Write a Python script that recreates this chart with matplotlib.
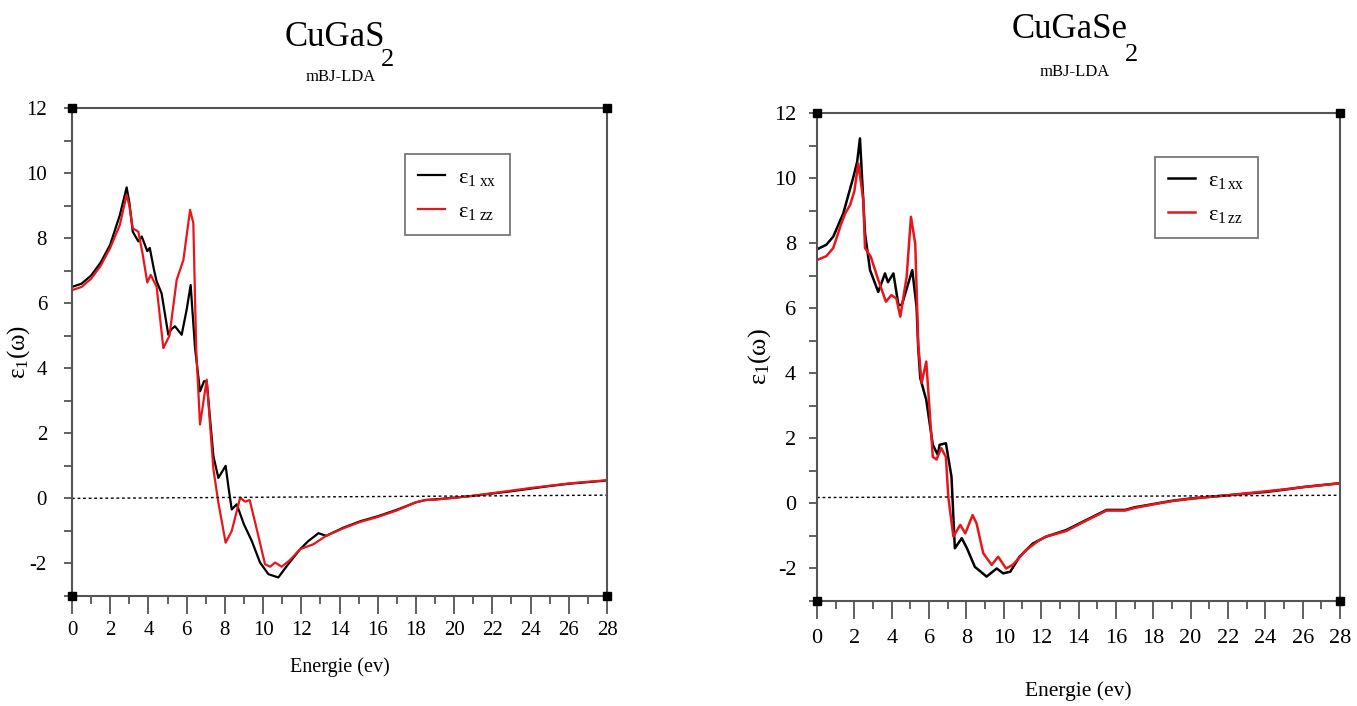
import matplotlib
matplotlib.use("Agg")
import matplotlib.pyplot as plt
from matplotlib.ticker import MultipleLocator

plt.rcParams['font.family'] = ['Liberation Serif', 'DejaVu Serif']
plt.rcParams['mathtext.fontset'] = 'custom'
plt.rcParams['mathtext.rm'] = 'Liberation Serif'
plt.rcParams['mathtext.it'] = 'Liberation Serif:italic'
plt.rcParams['axes.unicode_minus'] = False

# ---------------- data: CuGaS2 ----------------
s_xx_E = [0, 0.5, 1.0, 1.5, 2.0, 2.5, 2.86, 3.0, 3.18, 3.47, 3.65, 3.94, 4.07, 4.3, 4.43, 4.69,
          5.04, 5.2, 5.39, 5.74, 6.0, 6.21, 6.44, 6.7, 6.91, 7.05, 7.4, 7.66, 8.04, 8.2, 8.36,
          8.62, 9.0, 9.41, 9.84, 10.28, 10.8, 11.24, 11.94, 12.37, 12.9, 13.3, 14.2, 15.1, 16,
          17, 18, 18.5, 19, 20, 21, 22, 23, 24, 25, 26, 27, 28]
s_xx_eps = [6.5, 6.6, 6.85, 7.25, 7.8, 8.7, 9.56, 9.1, 8.2, 7.9, 8.05, 7.6, 7.7, 7.0, 6.67, 6.3,
            5.03, 5.2, 5.29, 5.03, 5.8, 6.56, 4.62, 3.29, 3.6, 3.6, 1.3, 0.63, 1.0, 0.3, -0.34,
            -0.18, -0.8, -1.31, -1.97, -2.33, -2.43, -2.08, -1.56, -1.31, -1.07, -1.15, -0.9, -0.7, -0.55,
            -0.35, -0.12, -0.05, -0.03, 0.02, 0.08, 0.15, 0.22, 0.3, 0.38, 0.45, 0.5, 0.55]

s_zz_E = [0, 0.5, 1.0, 1.5, 2.0, 2.5, 2.86, 3.0, 3.18, 3.47, 3.7, 3.94, 4.12, 4.43, 4.78, 5.1,
          5.48, 5.83, 6.18, 6.35, 6.5, 6.7, 7.05, 7.4, 7.66, 8.04, 8.36, 8.8, 9.06, 9.3, 9.67,
          10.1, 10.37, 10.63, 10.97, 11.4, 11.94, 12.63, 13.3, 14.2, 15.1, 16, 17, 18, 18.5, 19,
          20, 21, 22, 23, 24, 25, 26, 27, 28]
s_zz_eps = [6.4, 6.5, 6.75, 7.15, 7.7, 8.4, 9.33, 9.0, 8.3, 8.2, 7.5, 6.64, 6.87, 6.5, 4.62, 5.0,
            6.72, 7.33, 8.87, 8.46, 4.6, 2.27, 3.65, 0.9, -0.13, -1.36, -1.0, 0.02, -0.1, -0.05, -0.95,
            -2.02, -2.1, -1.97, -2.1, -1.9, -1.56, -1.41, -1.15, -0.92, -0.72, -0.57, -0.37, -0.12, -0.05, -0.04,
            0.02, 0.08, 0.16, 0.24, 0.32, 0.39, 0.46, 0.51, 0.56]

# ---------------- data: CuGaSe2 ----------------
se_xx_E = [0, 0.5, 0.87, 1.41, 1.95, 2.15, 2.3, 2.57, 2.84, 3.28, 3.64, 3.8, 4.09, 4.36, 4.54,
           5.1, 5.33, 5.42, 5.53, 5.85, 6.2, 6.47, 6.56, 6.9, 7.2, 7.38, 7.75, 8.03, 8.45, 9.08,
           9.62, 9.97, 10.35, 10.84, 11.56, 12.27, 13.34, 14.24, 15.15, 15.5, 16.5, 17, 18, 19,
           20, 21, 22, 23, 24, 25, 26, 27, 28]
se_xx_eps = [7.81, 7.95, 8.2, 8.92, 10.04, 10.5, 11.22, 8.3, 7.17, 6.5, 7.07, 6.8, 7.07, 6.1, 6.1,
             7.17, 6.05, 4.77, 3.85, 3.18, 1.8, 1.49, 1.8, 1.85, 0.82, -1.38, -1.07, -1.38, -1.95, -2.25,
             -2.0, -2.15, -2.1, -1.64, -1.23, -1.02, -0.82, -0.56, -0.3, -0.2, -0.2, -0.12, -0.02, 0.08,
             0.15, 0.2, 0.25, 0.3, 0.35, 0.42, 0.5, 0.56, 0.62]

se_zz_E = [0, 0.5, 0.87, 1.3, 1.5, 1.77, 2.0, 2.21, 2.48, 2.57, 2.88, 3.28, 3.69, 3.98, 4.25,
           4.46, 4.8, 5.03, 5.26, 5.42, 5.6, 5.85, 6.2, 6.4, 6.65, 6.9, 7.03, 7.3, 7.67, 7.94,
           8.33, 8.54, 8.9, 9.35, 9.7, 10.12, 10.48, 11.2, 11.9, 12.27, 13.34, 14.24, 15.15, 15.5,
           16.5, 17, 18, 19, 20, 21, 22, 23, 24, 25, 26, 27, 28]
se_zz_eps = [7.48, 7.6, 7.85, 8.6, 8.9, 9.17, 9.6, 10.45, 9.33, 7.85, 7.58, 6.87, 6.2, 6.4, 6.3,
             5.74, 6.97, 8.81, 7.98, 4.9, 3.7, 4.36, 1.43, 1.35, 1.7, 1.43, 0.2, -1.02, -0.66, -0.92,
             -0.36, -0.61, -1.53, -1.89, -1.64, -2.0, -1.89, -1.43, -1.13, -1.02, -0.85, -0.58, -0.32, -0.22,
             -0.22, -0.14, -0.03, 0.07, 0.14, 0.2, 0.25, 0.31, 0.37, 0.43, 0.5, 0.56, 0.62]

ref_s_x = [0, 28]
ref_s_y = [0.0, 0.1]
ref_se_x = [0, 28]
ref_se_y = [0.18, 0.25]

xticks = list(range(0, 29, 2))
yticks = list(range(-2, 13, 2))

GRAY = '#555555'

fig = plt.figure(figsize=(13.57, 7.06), dpi=100)
ax1 = fig.add_axes([72/1357, 1-596/706, 535/1357, 488/706])
ax2 = fig.add_axes([817/1357, 1-601/706, 523/1357, 488/706])


def style(ax, fs, legpos, xpad, ypad, ylab_x, xlab_y):
    ax.set_xlim(0, 28)
    ax.set_ylim(-3, 12)
    ax.xaxis.set_minor_locator(MultipleLocator(1))
    ax.yaxis.set_minor_locator(MultipleLocator(1))
    ax.set_xticks(xticks)
    ax.set_yticks(yticks)
    for sp in ax.spines.values():
        sp.set_color(GRAY)
        sp.set_linewidth(1.5)
    ax.tick_params(axis='x', which='major', direction='out', length=13, width=1.3,
                   color=GRAY, labelsize=fs, pad=xpad)
    ax.tick_params(axis='x', which='minor', direction='out', length=6, width=1.3, color=GRAY)
    ax.tick_params(axis='y', which='both', direction='out', length=6, width=1.3,
                   color=GRAY, labelsize=fs, pad=ypad)
    ax.set_xlabel('Energie (ev)', fontsize=fs - 0.5)
    ax.xaxis.set_label_coords(0.5, xlab_y)
    ax.set_ylabel(r'$\mathrm{ε_{1}(ω)}$', fontsize=fs + 3)
    ax.yaxis.set_label_coords(ylab_x, 0.5)
    # corner squares
    ax.plot([0, 28, 0, 28], [12, 12, -3, -3], 's', color='black', markersize=6,
            clip_on=False, zorder=5)
    leg = ax.legend(loc='upper left', bbox_to_anchor=legpos, fontsize=16,
                    frameon=True, fancybox=False, handlelength=1.2, handletextpad=0.6,
                    labelspacing=0.6, borderpad=0.6, borderaxespad=0)
    leg.get_frame().set_edgecolor(GRAY)
    leg.get_frame().set_linewidth(1.3)


ax1.plot(s_xx_E, s_xx_eps, color='black', lw=1.6, label=r'$\mathrm{ε_{1\ xx}}$')
ax1.plot(s_zz_E, s_zz_eps, color='#e8161b', lw=1.6, label=r'$\mathrm{ε_{1\ zz}}$')
ax1.plot(ref_s_x, ref_s_y, color='black', lw=1.0, ls=(0, (2, 2)))
style(ax1, 15, (0.622, 0.905), 5, 12, -0.075, -0.125)

ax2.plot(se_xx_E, se_xx_eps, color='black', lw=1.8, label=r'$\mathrm{ε_{1\,xx}}$')
ax2.plot(se_zz_E, se_zz_eps, color='#e8161b', lw=1.8, label=r'$\mathrm{ε_{1\,zz}}$')
ax2.plot(ref_se_x, ref_se_y, color='black', lw=1.0, ls=(0, (2, 2)))
style(ax2, 16, (0.646, 0.91), 7, 9, -0.085, -0.165)

# titles
fig.text(335/1357, 1-37/706, 'CuGaS', fontsize=25, ha='center', va='center')
fig.text(388/1357, 1-60/706, '2', fontsize=19, ha='center', va='center')
fig.text(341/1357, 1-77/706, 'mBJ-LDA', fontsize=12, ha='center', va='center')

fig.text(1070/1357, 1-29/706, 'CuGaSe', fontsize=25, ha='center', va='center')
fig.text(1131/1357, 1-55/706, '2', fontsize=19, ha='center', va='center')
fig.text(1075/1357, 1-72/706, 'mBJ-LDA', fontsize=12, ha='center', va='center')

fig.savefig('out.png', dpi=100)
